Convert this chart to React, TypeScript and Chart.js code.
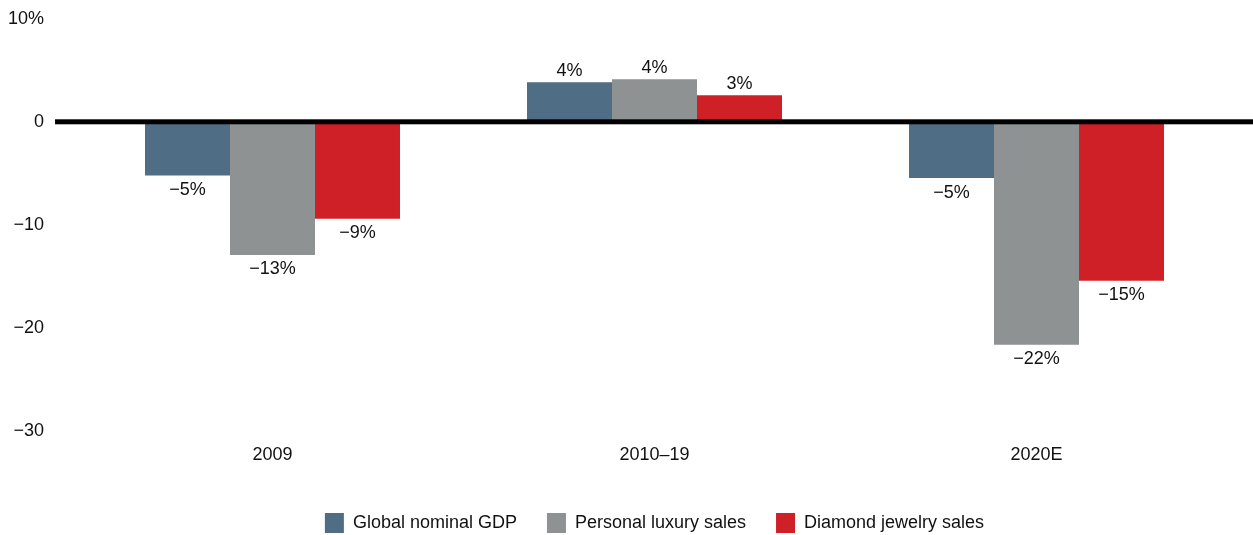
import React, { useEffect, useRef } from "react";
import { Chart, registerables } from "chart.js";

Chart.register(...registerables);

const categories = ["2009", "2010–19", "2020E"];
const seriesNames = ["Global nominal GDP", "Personal luxury sales", "Diamond jewelry sales"];
const gdpValues = [-5.2, 3.84, -5.45];
const luxuryValues = [-12.9, 4.13, -21.6];
const diamondValues = [-9.4, 2.58, -15.4];
const seriesColors = ["#4f6d84", "#8e9293", "#d02027"];
const yTicks = [10, 0, -10, -20, -30];

const FONT = "'Liberation Sans', Arial, Helvetica, sans-serif";

const fmtPct = (v: number) => {
  const r = Math.round(v);
  return (r < 0 ? "\u2212" + Math.abs(r) : String(r)) + "%";
};

const fmtTick = (v: number) => {
  if (v === 10) return "10%";
  if (v < 0) return "\u2212" + Math.abs(v);
  return String(v);
};

const zeroLinePlugin = {
  id: "zeroLine",
  afterDatasetsDraw(chart: any) {
    const { ctx } = chart;
    const y = chart.scales.y.getPixelForValue(0);
    ctx.save();
    ctx.fillStyle = "#000";
    ctx.fillRect(55, y - 2.5, chart.width - 55, 5);
    ctx.restore();
  },
};

const valueLabelPlugin = {
  id: "valueLabels",
  afterDatasetsDraw(chart: any) {
    const { ctx } = chart;
    ctx.save();
    ctx.font = `18px ${FONT}`;
    ctx.fillStyle = "#111";
    ctx.textAlign = "center";
    ctx.textBaseline = "middle";
    chart.data.datasets.forEach((ds: any, di: number) => {
      const meta = chart.getDatasetMeta(di);
      meta.data.forEach((bar: any, i: number) => {
        const v = ds.data[i];
        const y = v < 0 ? bar.y + 14.5 : bar.y - 11;
        ctx.fillText(fmtPct(v), bar.x, y);
      });
    });
    ctx.restore();
  },
};

export default function App() {
  const ref = useRef<HTMLCanvasElement>(null);
  useEffect(() => {
    if (!ref.current) return;
    const values = [gdpValues, luxuryValues, diamondValues];
    const chart = new Chart(ref.current, {
      type: "bar",
      data: {
        labels: categories,
        datasets: seriesNames.map((name, i) => ({
          label: name,
          data: values[i],
          backgroundColor: seriesColors[i],
          borderWidth: 0,
          categoryPercentage: 0.6675,
          barPercentage: 1,
        })),
      },
      options: {
        animation: false,
        responsive: true,
        maintainAspectRatio: false,
        layout: { padding: { left: 0, right: 25.5, top: 18.6, bottom: -8 } },
        plugins: {
          tooltip: { enabled: false },
          legend: {
            position: "bottom",
            fullSize: false,
            labels: {
              boxWidth: 19,
              boxHeight: 20,
              padding: 30,
              color: "#111",
              font: { family: FONT, size: 18 },
            },
          },
        },
        scales: {
          x: {
            afterFit(scale: any) {
              scale.height = scale.height + 4;
            },
            grid: { display: false, drawTicks: false },
            border: { display: false },
            ticks: {
              padding: 13,
              color: "#111",
              font: { family: FONT, size: 18 },
            },
          },
          y: {
            min: -30,
            max: 10,
            afterBuildTicks(scale: any) {
              scale.ticks = yTicks.map((v) => ({ value: v }));
            },
            afterFit(scale: any) {
              scale.width = 81.5;
            },
            grid: { display: false, drawTicks: true, tickLength: 37.5 },
            border: { display: false },
            ticks: {
              padding: 0,
              color: "#111",
              font: { family: FONT, size: 18 },
              callback: (v: any) => fmtTick(Number(v)),
            },
          },
        },
      },
      plugins: [zeroLinePlugin, valueLabelPlugin],
    });
    return () => chart.destroy();
  }, []);
  return (
    <div style={{ position: "absolute", left: 0, top: 0, width: 1253, height: 535 }}>
      <canvas ref={ref} />
    </div>
  );
}
